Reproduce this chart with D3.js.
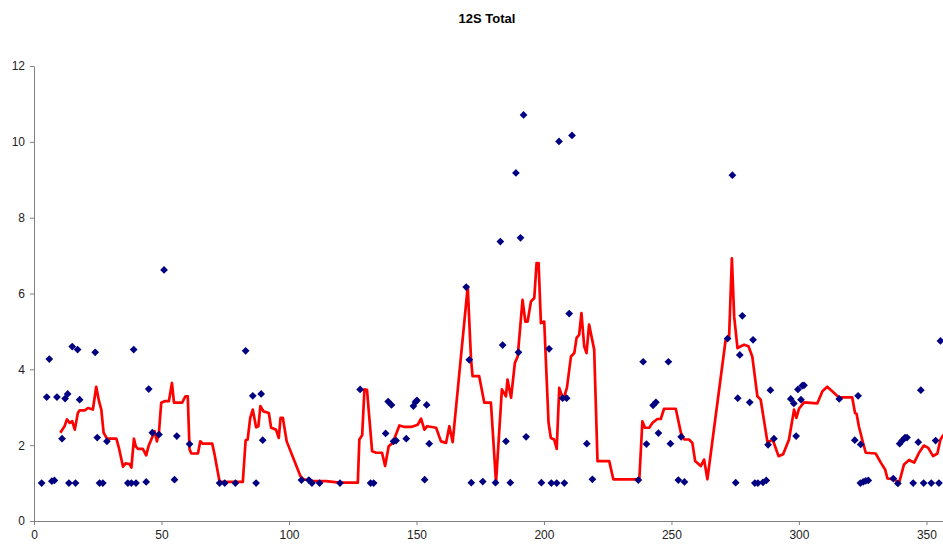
<!DOCTYPE html>
<html>
<head>
<meta charset="utf-8">
<script src="https://cdn.jsdelivr.net/npm/d3@7"></script>
<style>
  body { margin: 0; background: #fff; }
  #chart { width: 943px; height: 545px; }
  .axis path, .axis line { stroke: #808080; }
  .axis text { font-family: "Liberation Sans", Arial, sans-serif; font-size: 12px; fill: #222; }
  .title { font-family: "Liberation Sans", Arial, sans-serif; font-size: 13px; font-weight: bold; fill: #000; }
</style>
</head>
<body>
<div id="chart"></div>
<script>
// valores
var titleText = "12S Total";
var xTicks = [0, 50, 100, 150, 200, 250, 300, 350];
var yTicks = [0, 2, 4, 6, 8, 10, 12];

// pontos (losangos azuis)
var pointX = [3, 5, 6, 7, 8, 9, 11, 12.2, 13.2, 13.7, 15, 16.3, 17.1, 17.9, 24, 24.8, 25.7, 27, 28.6,
  36.8, 38.2, 39.1, 40, 44, 45, 46.4, 49, 51, 55.1, 56, 61, 72.8, 74.8, 79,
  83, 85.8, 87.1, 89.1, 89.7, 104.9, 107.8, 109, 112, 120, 127.9, 132, 133.2, 137.9, 138.9, 140.2,
  141, 142, 146, 148.8, 149.6, 150.2, 153.2, 154, 155, 169.5, 170.7, 171.5,
  176, 181, 182.9, 183.8, 185.1, 186.8, 189, 190, 190.8, 192, 193, 199, 202, 202.9, 205, 205.9,
  207.3, 208, 208.9, 209.9, 211, 216.8, 219, 237, 238.9, 240.2, 242.8, 243.9, 244.9, 248.8, 249.6,
  252.7, 253.8, 255.1, 272, 273.9, 275.2, 276, 276.8, 277.8, 280.7, 282, 282.7, 283.9, 285.9, 287.2,
  287.9, 288.8, 290.2, 296.8, 298, 298.9, 299.6, 300.8, 301.3, 302, 315.8, 321.9, 323.2, 324.2,
  324.1, 325.2, 326.2, 327.2, 337, 338.8, 339.5, 340.5, 341.6, 342.4, 344.8, 346.8, 347.8, 348.9,
  351.9, 353.6, 354.9, 355.5];
var pointY = [1, 3.27, 4.27, 1.05, 1.07, 3.27, 2.17, 3.23, 3.35, 1, 4.6, 1, 4.52, 3.2, 4.45, 2.2, 1, 1, 2.1,
  1, 1, 4.52, 1, 1.03, 3.48, 2.33, 2.28, 6.62, 1.09, 2.24, 2.03, 1, 1, 1,
  4.49, 3.3, 1, 3.35, 2.13, 1.08, 1.08, 1, 1, 1, 3.47, 1, 1, 2.31, 3.15, 3.06,
  2.1, 2.12, 2.17, 3.03, 3.14, 3.18, 1.09, 3.06, 2.04, 6.17, 4.25, 1.01,
  1.04, 1.01, 7.37, 4.64, 2.1, 1.01, 9.18, 4.45, 7.47, 10.71, 2.22, 1.01, 4.54, 1, 1, 10.01,
  3.24, 1, 3.24, 5.47, 10.17, 2.04, 1.1, 1.08, 4.2, 2.03, 3.05, 3.13, 2.32, 4.2, 2.04,
  1.08, 2.22, 1.03, 4.81, 9.12, 1.01, 3.24, 4.38, 5.41, 3.13, 4.78, 1, 1, 1.02, 1.07,
  2.01, 3.45, 2.17, 3.22, 3.1, 2.24, 3.47, 3.2, 3.57, 3.58, 3.22, 2.13, 3.3, 2.02,
  1, 1.03, 1.06, 1.07, 1.12, 0.99, 2.04, 2.12, 2.2, 2.2, 1, 2.08, 3.45, 1,
  1, 2.12, 1, 4.75];

// média móvel (linha vermelha)
var lineX = [10.3, 12, 12.9, 14, 15, 16, 17.2, 17.9, 19.9, 21.2, 23.1, 24.4, 25.5, 26.4, 27.3, 28.6, 32.3, 33.3,
  34.9, 35.9, 37.5, 38.2, 39.2, 39.9, 40.8, 42.7, 44, 44.9, 46, 47.3, 48.2, 49, 49.9, 51.2, 52.9, 54.1, 54.9,
  58.1, 59.4, 60.3, 61, 61.7, 64.3, 65.2, 66.2, 69.9, 70.8, 72.8, 80.6, 81.9, 83, 83.8, 84.8, 85.8, 87.1, 88,
  88.8, 90, 92.1, 93, 94.9, 96, 96.7, 97.6, 99.1, 104.5, 105.7, 109.3, 114.6, 119.8, 127, 127.6, 128.7, 129.6,
  130.6, 132.6, 134.2, 136.5, 137.7, 139.1, 140.7, 143.3, 145.3, 147.9, 150.5, 151.8, 153.1, 154.2, 157.7,
  159.6, 161.6, 162.9, 164.2, 170.1, 171.4, 172, 174.6, 176.6, 179.2, 181.2, 183.5, 185.1, 185.7, 187.1,
  188.6, 189.7, 191.6, 192.7, 193.6, 194.9, 196.2, 197.1, 197.9, 198.8, 200.1, 201.8, 202.7, 204, 205, 206,
  207.6, 209, 210.6, 211.9, 212.8, 213.8, 214.7, 215.8, 216.7, 217.7, 219.7, 221, 225.6, 227.2, 237.4, 238.6,
  239.6, 241.3, 242.6, 244.5, 245.8, 247.1, 251.7, 253.7, 255, 256.9, 258.2, 259.3, 261.5, 262.8, 264.1,
  271.3, 272.6, 273.7, 274.6, 275.9, 277.2, 278.5, 280.2, 281.7, 283.7, 285, 287.7, 289.7, 292, 293.8, 296.1,
  298.1, 299, 300, 302, 307.2, 309.2, 311.1, 313.7, 315.7, 320.9, 322, 322.6, 323.5, 324.8, 326.2, 330.1,
  332.1, 333.8, 334.7, 337.3, 339.3, 341.2, 343.2, 345.2, 347.1, 349, 350.7, 352.6, 354.3, 355.5, 357];
var lineY = [2.33, 2.5, 2.68, 2.59, 2.63, 2.41, 2.85, 2.92, 2.92, 2.98, 2.94, 3.54, 3.16, 2.94, 2.33, 2.17, 2.17, 1.93,
  1.43, 1.52, 1.5, 1.41, 2.17, 1.97, 1.9, 1.9, 1.73, 1.97, 2.15, 2.37, 2.1, 2.34, 3.12, 3.16, 3.16, 3.64, 3.12,
  3.12, 3.29, 3.29, 1.89, 1.78, 1.78, 2.1, 2.04, 2.04, 1.76, 1.03, 1.03, 1.03, 2.13, 2.15, 2.72, 2.94, 2.47, 2.5,
  3.03, 2.89, 2.85, 2.46, 2.41, 2.19, 2.72, 2.72, 2.1, 1.18, 1.1, 1.05, 1.05, 1.01, 1.01, 2.15, 2.26, 3.47,
  3.46, 1.84, 1.8, 1.8, 1.45, 1.97, 2.06, 2.52, 2.48, 2.48, 2.54, 2.7, 2.41, 2.5, 2.46,
  2.1, 2.06, 2.5, 2.08, 6.18, 4.26, 3.82, 3.82, 3.12, 3.12, 1.01, 3.47, 3.29, 3.73, 3.25,
  4.17, 4.34, 5.83, 5.26, 5.26, 5.79, 5.88, 6.8, 6.8, 5.22, 5.26, 2.59, 2.19, 2.15, 1.9, 3.51,
  3.2, 3.51, 4.34, 4.43, 4.83, 4.91, 5.48, 4.6, 4.43, 5.18, 4.52, 1.58, 1.58, 1.1, 1.1, 2.63,
  2.46, 2.46, 2.59, 2.69, 2.69, 2.96, 2.96, 2.33, 2.15, 2.15, 2.06, 1.58, 1.45, 1.62, 1.1,
  4.8, 4.83, 6.93, 5.39, 4.56, 4.61, 4.65, 4.61, 4.34, 3.29, 3.2, 2.06, 2.15, 1.71, 1.76, 2.15,
  2.94, 2.72, 2.96, 3.13, 3.1, 3.42, 3.54, 3.38, 3.26, 3.26, 2.85, 2.83, 2.5, 2.15, 1.8, 1.78,
  1.54, 1.36, 1.12, 1.1, 1.01, 1.49, 1.61, 1.54, 1.8, 1.99, 1.93, 1.71, 1.78, 2.15, 2.3];

(function () {
  'use strict';
  var W = 943, H = 545;
  var margin = {top: 66, right: 0, bottom: 24, left: 34};
  var width = W - margin.left - margin.right;
  var height = H - margin.top - margin.bottom;

  var svg = d3.select("#chart").append("svg")
    .attr("width", W)
    .attr("height", H);

  svg.append("text")
    .attr("class", "title")
    .attr("x", 487)
    .attr("y", 23)
    .attr("text-anchor", "middle")
    .text(titleText);

  var g = svg.append("g")
    .attr("transform", "translate(" + margin.left + "," + margin.top + ")");

  // escalas
  var x = d3.scaleLinear().domain([0, 356.5]).range([0, width]);
  var y = d3.scaleLinear().domain([0, 12]).range([height, 0]);

  g.append("defs").append("clipPath").attr("id", "clip")
    .append("rect").attr("x", 0).attr("y", -10).attr("width", width).attr("height", height + 10);

  // eixos
  g.append("g")
    .attr("class", "axis")
    .call(d3.axisLeft(y).tickValues(yTicks).tickSize(4).tickSizeOuter(0).tickPadding(5));

  g.append("g")
    .attr("class", "axis")
    .attr("transform", "translate(0," + height + ")")
    .call(d3.axisBottom(x).tickValues(xTicks).tickSize(4).tickSizeOuter(0).tickPadding(5));

  // linha
  var lineData = lineX.map(function (d, i) { return [d, lineY[i]]; });
  g.append("path")
    .datum(lineData)
    .attr("clip-path", "url(#clip)")
    .attr("fill", "none")
    .attr("stroke", "#ff0000")
    .attr("stroke-width", 2.7)
    .attr("stroke-linejoin", "round")
    .attr("d", d3.line()
      .x(function (d) { return x(d[0]); })
      .y(function (d) { return y(d[1]); }));

  // pontos
  var sym = d3.symbol().type(d3.symbolSquare).size(30);
  g.selectAll(".pt")
    .data(pointX.map(function (d, i) { return [d, pointY[i]]; }))
    .enter()
    .append("path")
    .attr("class", "pt")
    .attr("fill", "#000080")
    .attr("d", sym)
    .attr("transform", function (d) {
      return "translate(" + x(d[0]) + "," + y(d[1]) + ") rotate(45)";
    });
})();
</script>
</body>
</html>
